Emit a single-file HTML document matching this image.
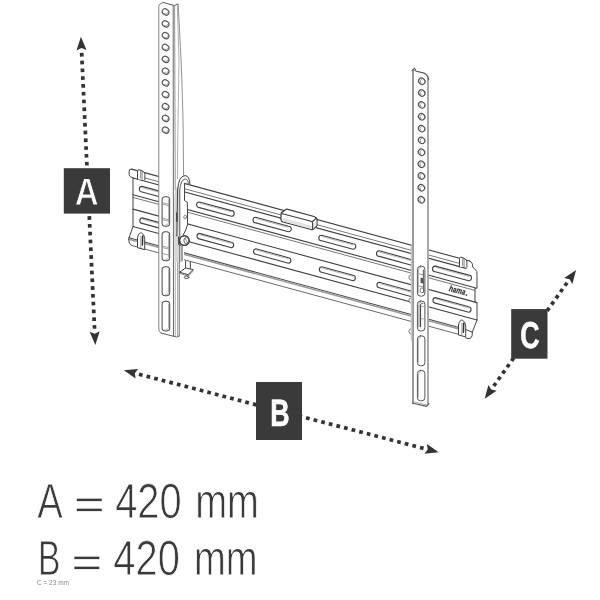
<!DOCTYPE html>
<html lang="en">
<head>
<meta charset="utf-8">
<title>Wall bracket dimensions</title>
<style>
html,body{margin:0;padding:0;background:#fff;}
body{width:600px;height:600px;overflow:hidden;font-family:"Liberation Sans",sans-serif;}
svg{display:block;}
text{text-rendering:geometricPrecision;}
svg{will-change:transform;}
</style>
</head>
<body>
<svg width="600" height="600" viewBox="0 0 600 600">
<rect width="600" height="600" fill="#fff"/>
<g id="plate" stroke-linecap="round" stroke-linejoin="round" fill="none">
<path d="M131.0,168.7 L472.0,261.6 L477.0,267.5 L477.0,320.0 L472.0,333.6 L470.0,337.4 L182.0,259.1 L131.0,245.3 L128.7,239.3 L133.0,226.5 L133.0,177.5 L129.3,173.5 Z" fill="#fff" stroke="none"/>
<path d="M131.6,169.1 L469.5,261.0" stroke="#424242" stroke-width="1.1" fill="none"/>
<path d="M145.0,178.0 L459.5,263.4" stroke="#6a6a6a" stroke-width="0.9" fill="none"/>
<path d="M133.2,178.0 L466.0,268.4" stroke="#424242" stroke-width="1.2" fill="none"/>
<path d="M133.0,194.7 L475.0,287.7" stroke="#424242" stroke-width="1.1" fill="none"/>
<path d="M133.0,197.4 L475.0,290.4" stroke="#6a6a6a" stroke-width="0.9" fill="none"/>
<path d="M133.0,209.1 L477.0,302.6" stroke="#424242" stroke-width="1.1" fill="none"/>
<path d="M133.0,226.5 L477.0,320.0" stroke="#424242" stroke-width="1.1" fill="none"/>
<path d="M129.0,237.8 L459.0,327.5" stroke="#4a4a4a" stroke-width="1.1" fill="none"/>
<path d="M129.0,239.3 L459.0,329.0" stroke="#9a9a9a" stroke-width="1.6" fill="none"/>
<path d="M131.5,245.4 L458.5,334.3" stroke="#6a6a6a" stroke-width="1.0" fill="none"/>
<path d="M133.0,178.0 L133.0,226.5 L128.7,238.8 Q128.4,243.8 131.5,245.4" stroke="#424242"/>
<path d="M131.6,169.1 Q129.1,168.6 129.1,171.4 L129.2,174.7 Q129.3,176.1 130.4,176.6 L133.3,178.1" stroke="#424242"/>
<path d="M469.3,260.7 Q472.4,262.1 472.6,264.8 L472.7,267.0 L476.8,271.3 L477.0,275.5 L477.0,288.2 L475.0,288.2 L475.0,301.9 L477.0,302.8 L477.0,320.0 L472.3,332.2 Q472.6,339.3 468.0,338.6 L465.5,337.7" stroke="#424242"/>
<path d="M466.0,329.6 L472.3,332.2" stroke="#424242"/>
<path d="M142.1,186.4 L174.2,195.1 A2.8,2.8 0 0 1 174.2,200.7 L142.1,192.0 A2.8,2.8 0 0 1 142.1,186.4 Z" stroke="#424242" stroke-width="1.1" fill="#fff"/>
<path d="M142.1,217.9 L174.2,226.6 A2.8,2.8 0 0 1 174.2,232.1 L142.1,223.4 A2.8,2.8 0 0 1 142.1,217.9 Z" stroke="#424242" stroke-width="1.1" fill="#fff"/>
<path d="M142.8,187.8 L174.0,196.2" stroke="#999" stroke-width="0.7" fill="none"/>
<path d="M142.8,219.3 L174.0,227.7" stroke="#999" stroke-width="0.7" fill="none"/>
<path d="M199.4,202.0 L231.4,210.6 A2.8,2.8 0 0 1 231.4,216.2 L199.4,207.6 A2.8,2.8 0 0 1 199.4,202.0 Z" stroke="#424242" stroke-width="1.1" fill="#fff"/>
<path d="M199.3,233.4 L231.4,242.2 A2.8,2.8 0 0 1 231.4,247.7 L199.3,238.9 A2.8,2.8 0 0 1 199.3,233.4 Z" stroke="#424242" stroke-width="1.1" fill="#fff"/>
<path d="M200.1,203.3 L231.2,211.8" stroke="#999" stroke-width="0.7" fill="none"/>
<path d="M200.1,234.8 L231.2,243.3" stroke="#999" stroke-width="0.7" fill="none"/>
<path d="M255.8,217.3 L288.5,226.2 A2.8,2.8 0 0 1 288.5,231.8 L255.8,222.9 A2.8,2.8 0 0 1 255.8,217.3 Z" stroke="#424242" stroke-width="1.1" fill="#fff"/>
<path d="M255.8,248.8 L288.6,257.7 A2.8,2.8 0 0 1 288.6,263.2 L255.8,254.3 A2.8,2.8 0 0 1 255.8,248.8 Z" stroke="#424242" stroke-width="1.1" fill="#fff"/>
<path d="M256.5,218.7 L288.3,227.3" stroke="#999" stroke-width="0.7" fill="none"/>
<path d="M256.5,250.2 L288.3,258.8" stroke="#999" stroke-width="0.7" fill="none"/>
<path d="M321.6,235.2 L353.0,243.7 A2.8,2.8 0 0 1 353.0,249.3 L321.6,240.8 A2.8,2.8 0 0 1 321.6,235.2 Z" stroke="#424242" stroke-width="1.1" fill="#fff"/>
<path d="M321.6,266.7 L353.1,275.2 A2.8,2.8 0 0 1 353.1,280.7 L321.6,272.2 A2.8,2.8 0 0 1 321.6,266.7 Z" stroke="#424242" stroke-width="1.1" fill="#fff"/>
<path d="M322.3,236.6 L352.8,244.8" stroke="#999" stroke-width="0.7" fill="none"/>
<path d="M322.3,268.1 L352.8,276.3" stroke="#999" stroke-width="0.7" fill="none"/>
<path d="M379.3,250.8 L411.7,259.7 A2.8,2.8 0 0 1 411.7,265.3 L379.3,256.4 A2.8,2.8 0 0 1 379.3,250.8 Z" stroke="#424242" stroke-width="1.1" fill="#fff"/>
<path d="M379.2,282.3 L411.8,291.2 A2.8,2.8 0 0 1 411.8,296.7 L379.2,287.8 A2.8,2.8 0 0 1 379.2,282.3 Z" stroke="#424242" stroke-width="1.1" fill="#fff"/>
<path d="M380.0,252.2 L411.5,260.8" stroke="#999" stroke-width="0.7" fill="none"/>
<path d="M380.0,283.7 L411.5,292.3" stroke="#999" stroke-width="0.7" fill="none"/>
<path d="M435.3,266.1 L468.7,275.1 A2.8,2.8 0 0 1 468.7,280.7 L435.3,271.7 A2.8,2.8 0 0 1 435.3,266.1 Z" stroke="#424242" stroke-width="1.1" fill="#fff"/>
<path d="M435.2,297.6 L468.8,306.7 A2.8,2.8 0 0 1 468.8,312.2 L435.2,303.1 A2.8,2.8 0 0 1 435.2,297.6 Z" stroke="#424242" stroke-width="1.1" fill="#fff"/>
<path d="M436.0,267.5 L468.5,276.3" stroke="#999" stroke-width="0.7" fill="none"/>
<path d="M436.0,299.0 L468.5,307.8" stroke="#999" stroke-width="0.7" fill="none"/>
<path d="M137.5,179.3 L137.5,170.9 Q137.7,169.0 140.0,169.9 L143.0,171.4 Q144.9,172.3 144.9,174.3 L144.9,179.7" fill="#fff" stroke="#424242"/>
<path d="M140.7,170.4 L140.7,178.1 M142.1,171.2 L142.1,179.5" stroke="#6a6a6a" stroke-width="0.8"/>
<path d="M459.5,266.8 L459.5,258.4 Q459.7,256.5 462.0,257.4 L465.0,258.9 Q466.9,259.9 466.9,261.9 L466.9,267.3" fill="#fff" stroke="#424242"/>
<path d="M462.7,257.9 L462.7,265.6 M464.1,258.7 L464.1,267.0" stroke="#6a6a6a" stroke-width="0.8"/>
<path d="M137.5,247.3 L137.5,237.7 Q138.9,231.7 141.7,233.1 Q144.5,234.4 144.7,238.7 L144.7,249.3 Z" fill="#fff" stroke="#424242"/>
<path d="M142.7,235.9 L142.4,245.1" stroke="#333" stroke-width="1.5"/>
<path d="M140.9,236.2 L140.9,247.7" stroke="#6a6a6a" stroke-width="0.7"/>
<path d="M458.5,334.6 L458.5,325.0 Q459.9,319.0 462.7,320.3 Q465.5,321.7 465.7,325.9 L465.7,336.5 Z" fill="#fff" stroke="#424242"/>
<path d="M463.7,323.2 L463.4,332.3" stroke="#333" stroke-width="1.5"/>
<path d="M461.9,323.4 L461.9,334.9" stroke="#6a6a6a" stroke-width="0.7"/>
</g>
<text x="448.6" y="290.9" font-family="Liberation Sans, sans-serif" font-weight="bold" font-style="italic" font-size="8.6" fill="#383838" stroke="#383838" stroke-width="0.25" transform="rotate(15.2 448.6 290.9)" textLength="16.6" lengthAdjust="spacingAndGlyphs">hama</text>
<circle cx="466.4" cy="295.1" r="0.9" fill="#444"/>
<g id="level" stroke-linejoin="round" stroke-linecap="round">
<path d="M281.0,214.7 Q281.0,212.7 282.5,211.9 L285.5,209.7 Q286.5,208.9 288.0,209.4 L314.0,216.5 Q316.0,217.4 317.0,218.9 L317.0,225.5 L313.5,229.1 Q312.5,229.9 311.0,229.4 L283.0,221.9 Q281.0,221.3 281.0,219.7 Z" fill="#fff" stroke="#3c3c3c" stroke-width="1.2"/>
<path d="M282.0,217.6 L312.0,225.8 L312.0,229.2 L283.0,221.4 Z" fill="#e3e3e3" stroke="none"/>
<path d="M313.3,223.5 L316.4,220.4 L316.4,225.4 L313.3,228.5 Z" fill="#e6e6e6" stroke="none"/>
<path d="M281.6,213.5 L311.0,221.3 Q312.6,221.9 312.6,223.3 L312.6,229.3 M312.2,222.0 L316.3,218.1" fill="none" stroke="#3c3c3c" stroke-width="1.1"/>
</g>
<g id="lbr" stroke-linejoin="round" stroke-linecap="round">
<path d="M158.8,6 Q158.8,4.6 160,4 L163.3,2.5 L174.5,5.6 L177.3,4 L178.2,4.6 L181.1,60 L183.1,125 L183.8,176 L184,262 L179.2,262 L179.2,336 L176.5,337 L161,333 Q158.8,332 158.8,329 Z" fill="#fff" stroke="none"/>
<path d="M163.3,2.5 L160,4 Q158.8,4.6 158.8,6 L158.8,329 Q158.8,332 161,333" fill="none" stroke="#848484"/>
<path d="M161,333 L176.5,337 L179.2,336" fill="none" stroke="#5a5a5a"/>
<path d="M163.3,2.5 L174.5,5.6 L177.3,4 L178.2,4.6" fill="none" stroke="#555"/>
<path d="M173.2,5.6 L173.5,336" fill="none" stroke="#6a6a6a"/>
<path d="M174.6,5.6 L175.2,175 L175.2,190" fill="none" stroke="#8a8a8a" stroke-width="0.9"/>
<path d="M177.3,4 L179,60 L177.6,150 L177.5,186" fill="none" stroke="#9a9a9a" stroke-width="0.8"/>
<path d="M177.5,262 L177.5,336.5" fill="none" stroke="#9a9a9a" stroke-width="0.8"/>
<path d="M178.2,4.6 Q179.8,36 181.1,60 Q182.6,100 183.1,125 L183.6,176" fill="none" stroke="#858585" stroke-width="0.9"/>
<path d="M179.2,262 L179.2,336" fill="none" stroke="#6a6a6a"/>
<path d="M175.2,262 L175.3,336.4" fill="none" stroke="#9a9a9a" stroke-width="0.8"/>
<ellipse cx="165.6" cy="12.0" rx="3.5" ry="2.85" fill="#fff" stroke="#555" stroke-width="1.2" transform="rotate(35 165.6 12.0)"/>
<path d="M164.2,13.7 Q167.2,15.0 168.2,12.2" fill="none" stroke="#808080" stroke-width="0.8"/>
<ellipse cx="165.6" cy="23.8" rx="3.5" ry="2.85" fill="#fff" stroke="#555" stroke-width="1.2" transform="rotate(35 165.6 23.8)"/>
<path d="M164.2,25.5 Q167.2,26.8 168.2,24.0" fill="none" stroke="#808080" stroke-width="0.8"/>
<ellipse cx="165.6" cy="35.6" rx="3.5" ry="2.85" fill="#fff" stroke="#555" stroke-width="1.2" transform="rotate(35 165.6 35.6)"/>
<path d="M164.2,37.3 Q167.2,38.6 168.2,35.8" fill="none" stroke="#808080" stroke-width="0.8"/>
<ellipse cx="165.6" cy="47.5" rx="3.5" ry="2.85" fill="#fff" stroke="#555" stroke-width="1.2" transform="rotate(35 165.6 47.5)"/>
<path d="M164.2,49.2 Q167.2,50.5 168.2,47.7" fill="none" stroke="#808080" stroke-width="0.8"/>
<ellipse cx="165.6" cy="59.3" rx="3.5" ry="2.85" fill="#fff" stroke="#555" stroke-width="1.2" transform="rotate(35 165.6 59.3)"/>
<path d="M164.2,61.0 Q167.2,62.3 168.2,59.5" fill="none" stroke="#808080" stroke-width="0.8"/>
<ellipse cx="165.6" cy="71.1" rx="3.5" ry="2.85" fill="#fff" stroke="#555" stroke-width="1.2" transform="rotate(35 165.6 71.1)"/>
<path d="M164.2,72.8 Q167.2,74.1 168.2,71.3" fill="none" stroke="#808080" stroke-width="0.8"/>
<ellipse cx="165.6" cy="82.9" rx="3.5" ry="2.85" fill="#fff" stroke="#555" stroke-width="1.2" transform="rotate(35 165.6 82.9)"/>
<path d="M164.2,84.6 Q167.2,85.9 168.2,83.1" fill="none" stroke="#808080" stroke-width="0.8"/>
<ellipse cx="165.6" cy="94.7" rx="3.5" ry="2.85" fill="#fff" stroke="#555" stroke-width="1.2" transform="rotate(35 165.6 94.7)"/>
<path d="M164.2,96.4 Q167.2,97.7 168.2,94.9" fill="none" stroke="#808080" stroke-width="0.8"/>
<ellipse cx="165.6" cy="106.6" rx="3.5" ry="2.85" fill="#fff" stroke="#555" stroke-width="1.2" transform="rotate(35 165.6 106.6)"/>
<path d="M164.2,108.3 Q167.2,109.6 168.2,106.8" fill="none" stroke="#808080" stroke-width="0.8"/>
<ellipse cx="165.6" cy="118.4" rx="3.5" ry="2.85" fill="#fff" stroke="#555" stroke-width="1.2" transform="rotate(35 165.6 118.4)"/>
<path d="M164.2,120.1 Q167.2,121.4 168.2,118.6" fill="none" stroke="#808080" stroke-width="0.8"/>
<ellipse cx="165.6" cy="130.2" rx="3.5" ry="2.85" fill="#fff" stroke="#555" stroke-width="1.2" transform="rotate(35 165.6 130.2)"/>
<path d="M164.2,131.9 Q167.2,133.2 168.2,130.4" fill="none" stroke="#808080" stroke-width="0.8"/>
<rect x="162.1" y="196.7" width="7.6" height="29.6" rx="3.2" ry="3.2" stroke="#505050" stroke-width="1.05" fill="#fff"/>
<path d="M168.5,199.7 L168.5,222.8 Q168.1,225.1 165.6,225.1" fill="none" stroke="#999" stroke-width="0.7"/>
<rect x="162.1" y="231.7" width="7.6" height="29.1" rx="3.2" ry="3.2" stroke="#505050" stroke-width="1.05" fill="#fff"/>
<path d="M168.5,234.7 L168.5,257.3 Q168.1,259.6 165.6,259.6" fill="none" stroke="#999" stroke-width="0.7"/>
<rect x="162.1" y="266.7" width="7.6" height="29.1" rx="3.2" ry="3.2" stroke="#505050" stroke-width="1.05" fill="#fff"/>
<path d="M168.5,269.7 L168.5,292.3 Q168.1,294.6 165.6,294.6" fill="none" stroke="#999" stroke-width="0.7"/>
<rect x="162.1" y="301.3" width="7.6" height="29.7" rx="3.2" ry="3.2" stroke="#505050" stroke-width="1.05" fill="#fff"/>
<path d="M168.5,304.3 L168.5,327.5 Q168.1,329.8 165.6,329.8" fill="none" stroke="#999" stroke-width="0.7"/>
<path d="M162.8,202.8 L169,204.4" fill="none" stroke="#8a8a8a" stroke-width="0.8"/>
<path d="M162.8,204.2 L169,205.8" fill="none" stroke="#8a8a8a" stroke-width="0.8"/>
<path d="M162.8,218.2 L169,219.8" fill="none" stroke="#8a8a8a" stroke-width="0.8"/>
<path d="M162.8,219.6 L169,221.2" fill="none" stroke="#8a8a8a" stroke-width="0.8"/>
<path d="M162.8,246.1 L169,247.7" fill="none" stroke="#8a8a8a" stroke-width="0.8"/>
<path d="M162.8,247.6 L169,249.2" fill="none" stroke="#8a8a8a" stroke-width="0.8"/>
<path d="M162.8,253.6 L169,255.2" fill="none" stroke="#8a8a8a" stroke-width="0.8"/>
<path d="M176.6,178 L184.6,184 L184.5,200.5 L187.3,202.3 L187.6,224 Q186.5,230 183.2,235 L182,246 L182,262 L176.6,262 Z" fill="#fff" stroke="none"/>
<path d="M174.2,262 L174.2,192 L178,190 Q178.6,176 185,175.6 Q189.6,175.6 190,184.6 L188.5,184.2 Q188,179 185.4,179 Q181,179.4 180,190 L179.8,236 L182,246 L182,262 Z" fill="#fff" stroke="none"/>
<path d="M174.2,262 L174.2,196 Q175,188 178,186 L180,190 L179.8,236 L179.8,262 Z" fill="#d6d6d6" stroke="none"/>
<path d="M176.8,236 L177.6,190 Q178.6,176 185,175.6 Q189.6,175.6 190,184.6" fill="none" stroke="#424242"/>
<path d="M179.8,262 L179.8,190 Q180.6,179.4 185.4,179 Q188,179 188.5,184.2" fill="none" stroke="#5a5a5a" stroke-width="1"/>
<path d="M184.6,184.3 L184.5,200.5 L187.3,202.3 L187.6,224 Q186.5,230 183.2,235" fill="none" stroke="#424242"/>
<path d="M182,246 L182,261" fill="none" stroke="#424242"/>
<ellipse cx="185.2" cy="217" rx="1.3" ry="1.9" fill="#fff" stroke="#6a6a6a" stroke-width="0.8" transform="rotate(20 185.2 217)"/>
<path d="M176.8,213 L176.8,221.4" stroke="#444" stroke-width="1.5" fill="none"/>
<circle cx="184.4" cy="240.6" r="4.8" fill="#fff" stroke="#333" stroke-width="1.4"/>
<ellipse cx="186.3" cy="240.6" rx="2.4" ry="3.1" fill="#fff" stroke="#555" stroke-width="0.9"/>
<path d="M185.3,238.6 L187.3,242.6" stroke="#666" stroke-width="0.7" fill="none"/>
<path d="M178.6,237 L178.6,244.5 L180.4,245.5" stroke="#444" stroke-width="1" fill="none"/>
<path d="M185.6,261 L185.6,269 M190.3,262 L190.3,269.6" stroke="#424242" fill="none"/>
<path d="M179.8,272 L185.7,268 L193,269.6 L188.4,274.4 Z" fill="#fff" stroke="#424242"/>
<path d="M179.8,272 L179.8,273.5 L188.4,276 L188.4,274.4 M188.4,276 L193,271.2 L193,269.6" fill="none" stroke="#6a6a6a" stroke-width="0.8"/>
<ellipse cx="186.6" cy="277.4" rx="2.4" ry="1.3" fill="#ddd" stroke="#555" stroke-width="0.9"/>
</g>
<g id="rbr" stroke-linejoin="round" stroke-linecap="round">
<path d="M412,274.5 Q408.6,274.9 408.8,277.5 Q409,280.1 412,280.5" fill="#fff" stroke="#6a6a6a" stroke-width="0.9"/>
<path d="M412,297.5 Q408.6,297.9 408.8,300.5 Q409,303.1 412,303.5" fill="#fff" stroke="#6a6a6a" stroke-width="0.9"/>
<path d="M412,328.5 Q408.6,328.9 408.8,331.5 Q409,334.1 412,334.5" fill="#fff" stroke="#6a6a6a" stroke-width="0.9"/>
<path d="M412.2,70.4 L414.5,68.2 L416.2,71.2 L423.3,72.9 Q427.8,74.2 428.7,79.5 L428.9,403.6 L426.6,406.4 L412.2,403 Z" fill="#fff" stroke="none"/>
<path d="M413,70.6 L413,403" fill="none" stroke="#888" stroke-width="1.7"/>
<path d="M411.6,246 L411.6,340" fill="none" stroke="#c4c4c4" stroke-width="1.6"/>
<path d="M428,78.5 L428,404.4" fill="none" stroke="#959595" stroke-width="1.6"/>
<path d="M412.2,70.6 L414.5,68.2 L416.2,71.2 L423.3,72.9 Q427.8,74.2 428.6,79.5" fill="none" stroke="#555" stroke-width="1.1"/>
<circle cx="414.6" cy="69.7" r="0.9" fill="#fff" stroke="#555" stroke-width="0.7"/>
<path d="M412.2,403 L426.6,406.4 L428.9,403.6" fill="none" stroke="#5a5a5a" stroke-width="1.1"/>
<path d="M413.8,401.8 L426.8,404.9" fill="none" stroke="#999" stroke-width="0.8"/>
<ellipse cx="421.8" cy="81.2" rx="3.4" ry="2.95" fill="#fff" stroke="#555" stroke-width="1.2" transform="rotate(40 421.8 81.2)"/>
<path d="M421.6,79.0 Q419.2,80.6 420.8,83.0" fill="none" stroke="#808080" stroke-width="0.8"/>
<ellipse cx="421.8" cy="93.0" rx="3.4" ry="2.95" fill="#fff" stroke="#555" stroke-width="1.2" transform="rotate(40 421.8 93.0)"/>
<path d="M421.6,90.8 Q419.1,92.5 420.8,94.8" fill="none" stroke="#808080" stroke-width="0.8"/>
<ellipse cx="421.7" cy="104.9" rx="3.4" ry="2.95" fill="#fff" stroke="#555" stroke-width="1.2" transform="rotate(40 421.7 104.9)"/>
<path d="M421.5,102.7 Q419.1,104.3 420.7,106.7" fill="none" stroke="#808080" stroke-width="0.8"/>
<ellipse cx="421.7" cy="116.8" rx="3.4" ry="2.95" fill="#fff" stroke="#555" stroke-width="1.2" transform="rotate(40 421.7 116.8)"/>
<path d="M421.5,114.5 Q419.1,116.2 420.7,118.5" fill="none" stroke="#808080" stroke-width="0.8"/>
<ellipse cx="421.6" cy="128.6" rx="3.4" ry="2.95" fill="#fff" stroke="#555" stroke-width="1.2" transform="rotate(40 421.6 128.6)"/>
<path d="M421.4,126.4 Q419.0,128.0 420.6,130.4" fill="none" stroke="#808080" stroke-width="0.8"/>
<ellipse cx="421.6" cy="140.4" rx="3.4" ry="2.95" fill="#fff" stroke="#555" stroke-width="1.2" transform="rotate(40 421.6 140.4)"/>
<path d="M421.4,138.2 Q418.9,139.8 420.6,142.2" fill="none" stroke="#808080" stroke-width="0.8"/>
<ellipse cx="421.5" cy="152.3" rx="3.4" ry="2.95" fill="#fff" stroke="#555" stroke-width="1.2" transform="rotate(40 421.5 152.3)"/>
<path d="M421.3,150.1 Q418.9,151.7 420.5,154.1" fill="none" stroke="#808080" stroke-width="0.8"/>
<ellipse cx="421.4" cy="164.2" rx="3.4" ry="2.95" fill="#fff" stroke="#555" stroke-width="1.2" transform="rotate(40 421.4 164.2)"/>
<path d="M421.2,162.0 Q418.8,163.6 420.4,166.0" fill="none" stroke="#808080" stroke-width="0.8"/>
<ellipse cx="421.4" cy="176.0" rx="3.4" ry="2.95" fill="#fff" stroke="#555" stroke-width="1.2" transform="rotate(40 421.4 176.0)"/>
<path d="M421.2,173.8 Q418.8,175.4 420.4,177.8" fill="none" stroke="#808080" stroke-width="0.8"/>
<ellipse cx="421.4" cy="187.8" rx="3.4" ry="2.95" fill="#fff" stroke="#555" stroke-width="1.2" transform="rotate(40 421.4 187.8)"/>
<path d="M421.2,185.7 Q418.8,187.2 420.4,189.7" fill="none" stroke="#808080" stroke-width="0.8"/>
<ellipse cx="421.3" cy="199.7" rx="3.4" ry="2.95" fill="#fff" stroke="#555" stroke-width="1.2" transform="rotate(40 421.3 199.7)"/>
<path d="M421.1,197.5 Q418.7,199.1 420.3,201.5" fill="none" stroke="#808080" stroke-width="0.8"/>
<rect x="417.4" y="266.2" width="7.5" height="30.0" rx="3.2" ry="3.2" stroke="#555" stroke-width="1.0" fill="#fff"/>
<path d="M418.6,292.7 L418.6,269.7 Q418.8,267.4 421,267.4" fill="none" stroke="#999" stroke-width="0.7"/>
<rect x="417.4" y="301.0" width="7.5" height="30.0" rx="3.2" ry="3.2" stroke="#555" stroke-width="1.0" fill="#fff"/>
<path d="M418.6,327.5 L418.6,304.5 Q418.8,302.2 421,302.2" fill="none" stroke="#999" stroke-width="0.7"/>
<rect x="417.4" y="335.8" width="7.5" height="30.0" rx="3.2" ry="3.2" stroke="#555" stroke-width="1.0" fill="#fff"/>
<path d="M418.6,362.3 L418.6,339.3 Q418.8,337.0 421,337.0" fill="none" stroke="#999" stroke-width="0.7"/>
<rect x="417.4" y="370.4" width="7.5" height="30.4" rx="3.2" ry="3.2" stroke="#555" stroke-width="1.0" fill="#fff"/>
<path d="M418.6,397.3 L418.6,373.9 Q418.8,371.6 421,371.6" fill="none" stroke="#999" stroke-width="0.7"/>
<path d="M420.6,277.6 L423.4,278.2 L423.4,283.6 L420.6,283 Z" fill="#555" stroke="none"/>
<path d="M419.4,274 L423.8,275 M419.4,286 L423.8,287.2" stroke="#777" stroke-width="0.8" fill="none"/>
<ellipse cx="422" cy="290.3" rx="1.9" ry="2.4" fill="#fff" stroke="#666" stroke-width="0.8"/>
<path d="M420.4,305 L420.4,326.5" stroke="#484848" stroke-width="1.4" fill="none"/>
<path d="M420.4,305 Q420.6,302.6 423,303.2" stroke="#555" stroke-width="0.9" fill="none"/>
<path d="M423.4,270 L423.6,292" stroke="#666" stroke-width="1.1" fill="none"/>
<path d="M420,306 L423.6,306.8 M420,318 L423.6,319" stroke="#888" stroke-width="0.7" fill="none"/>
</g>
<g id="dims">
<rect x="79.89" y="52.93" width="3.7" height="3.7" fill="#333" transform="rotate(87.3 81.74 54.78)"/>
<rect x="80.26" y="60.71" width="3.7" height="3.7" fill="#333" transform="rotate(87.3 82.11 62.56)"/>
<rect x="80.62" y="68.48" width="3.7" height="3.7" fill="#333" transform="rotate(87.3 82.47 70.33)"/>
<rect x="80.98" y="76.26" width="3.7" height="3.7" fill="#333" transform="rotate(87.3 82.83 78.11)"/>
<rect x="81.35" y="84.03" width="3.7" height="3.7" fill="#333" transform="rotate(87.3 83.20 85.88)"/>
<rect x="81.71" y="91.81" width="3.7" height="3.7" fill="#333" transform="rotate(87.3 83.56 93.66)"/>
<rect x="82.07" y="99.58" width="3.7" height="3.7" fill="#333" transform="rotate(87.3 83.92 101.43)"/>
<rect x="82.44" y="107.36" width="3.7" height="3.7" fill="#333" transform="rotate(87.3 84.29 109.21)"/>
<rect x="82.80" y="115.13" width="3.7" height="3.7" fill="#333" transform="rotate(87.3 84.65 116.98)"/>
<rect x="83.16" y="122.91" width="3.7" height="3.7" fill="#333" transform="rotate(87.3 85.01 124.76)"/>
<rect x="83.53" y="130.68" width="3.7" height="3.7" fill="#333" transform="rotate(87.3 85.38 132.53)"/>
<rect x="83.89" y="138.46" width="3.7" height="3.7" fill="#333" transform="rotate(87.3 85.74 140.31)"/>
<rect x="84.25" y="146.24" width="3.7" height="3.7" fill="#333" transform="rotate(87.3 86.10 148.09)"/>
<rect x="84.62" y="154.01" width="3.7" height="3.7" fill="#333" transform="rotate(87.3 86.47 155.86)"/>
<rect x="84.98" y="161.79" width="3.7" height="3.7" fill="#333" transform="rotate(87.3 86.83 163.64)"/>
<rect x="85.34" y="169.56" width="3.7" height="3.7" fill="#333" transform="rotate(87.3 87.19 171.41)"/>
<rect x="85.71" y="177.34" width="3.7" height="3.7" fill="#333" transform="rotate(87.3 87.56 179.19)"/>
<rect x="86.07" y="185.11" width="3.7" height="3.7" fill="#333" transform="rotate(87.3 87.92 186.96)"/>
<rect x="86.43" y="192.89" width="3.7" height="3.7" fill="#333" transform="rotate(87.3 88.28 194.74)"/>
<rect x="86.79" y="200.66" width="3.7" height="3.7" fill="#333" transform="rotate(87.3 88.64 202.51)"/>
<rect x="87.16" y="208.44" width="3.7" height="3.7" fill="#333" transform="rotate(87.3 89.01 210.29)"/>
<rect x="87.52" y="216.21" width="3.7" height="3.7" fill="#333" transform="rotate(87.3 89.37 218.06)"/>
<rect x="87.88" y="223.99" width="3.7" height="3.7" fill="#333" transform="rotate(87.3 89.73 225.84)"/>
<rect x="88.25" y="231.76" width="3.7" height="3.7" fill="#333" transform="rotate(87.3 90.10 233.61)"/>
<rect x="88.61" y="239.54" width="3.7" height="3.7" fill="#333" transform="rotate(87.3 90.46 241.39)"/>
<rect x="88.97" y="247.32" width="3.7" height="3.7" fill="#333" transform="rotate(87.3 90.82 249.17)"/>
<rect x="89.34" y="255.09" width="3.7" height="3.7" fill="#333" transform="rotate(87.3 91.19 256.94)"/>
<rect x="89.70" y="262.87" width="3.7" height="3.7" fill="#333" transform="rotate(87.3 91.55 264.72)"/>
<rect x="90.06" y="270.64" width="3.7" height="3.7" fill="#333" transform="rotate(87.3 91.91 272.49)"/>
<rect x="90.43" y="278.42" width="3.7" height="3.7" fill="#333" transform="rotate(87.3 92.28 280.27)"/>
<rect x="90.79" y="286.19" width="3.7" height="3.7" fill="#333" transform="rotate(87.3 92.64 288.04)"/>
<rect x="91.15" y="293.97" width="3.7" height="3.7" fill="#333" transform="rotate(87.3 93.00 295.82)"/>
<rect x="91.52" y="301.74" width="3.7" height="3.7" fill="#333" transform="rotate(87.3 93.37 303.59)"/>
<rect x="91.88" y="309.52" width="3.7" height="3.7" fill="#333" transform="rotate(87.3 93.73 311.37)"/>
<rect x="92.24" y="317.29" width="3.7" height="3.7" fill="#333" transform="rotate(87.3 94.09 319.14)"/>
<rect x="92.61" y="325.07" width="3.7" height="3.7" fill="#333" transform="rotate(87.3 94.46 326.92)"/>
<path d="M80.9,36.7 L86.5,50.0 L81.4,48.0 L76.5,50.4 Z" fill="#333"/>
<path d="M95.3,345.0 L89.7,331.7 L94.8,333.7 L99.7,331.3 Z" fill="#333"/>
<rect x="63.8" y="168.2" width="46.2" height="45.4" fill="#3a3a3a"/>
<text x="86.8" y="205.2" font-size="38.6" font-family="Liberation Sans, sans-serif" font-weight="bold" fill="#fff" text-anchor="middle" lengthAdjust="spacingAndGlyphs" textLength="24" stroke="#3a3a3a" stroke-width="0.9">A</text>
<rect x="138.89" y="372.86" width="3.7" height="3.7" fill="#333" transform="rotate(14.6 140.74 374.71)"/>
<rect x="146.48" y="374.84" width="3.7" height="3.7" fill="#333" transform="rotate(14.6 148.33 376.69)"/>
<rect x="154.08" y="376.82" width="3.7" height="3.7" fill="#333" transform="rotate(14.6 155.93 378.67)"/>
<rect x="161.67" y="378.79" width="3.7" height="3.7" fill="#333" transform="rotate(14.6 163.52 380.64)"/>
<rect x="169.27" y="380.77" width="3.7" height="3.7" fill="#333" transform="rotate(14.6 171.12 382.62)"/>
<rect x="176.86" y="382.75" width="3.7" height="3.7" fill="#333" transform="rotate(14.6 178.71 384.60)"/>
<rect x="184.46" y="384.73" width="3.7" height="3.7" fill="#333" transform="rotate(14.6 186.31 386.58)"/>
<rect x="192.05" y="386.70" width="3.7" height="3.7" fill="#333" transform="rotate(14.6 193.90 388.55)"/>
<rect x="199.65" y="388.68" width="3.7" height="3.7" fill="#333" transform="rotate(14.6 201.50 390.53)"/>
<rect x="207.24" y="390.66" width="3.7" height="3.7" fill="#333" transform="rotate(14.6 209.09 392.51)"/>
<rect x="214.84" y="392.64" width="3.7" height="3.7" fill="#333" transform="rotate(14.6 216.69 394.49)"/>
<rect x="222.43" y="394.62" width="3.7" height="3.7" fill="#333" transform="rotate(14.6 224.28 396.47)"/>
<rect x="230.03" y="396.59" width="3.7" height="3.7" fill="#333" transform="rotate(14.6 231.88 398.44)"/>
<rect x="237.63" y="398.57" width="3.7" height="3.7" fill="#333" transform="rotate(14.6 239.48 400.42)"/>
<rect x="245.22" y="400.55" width="3.7" height="3.7" fill="#333" transform="rotate(14.6 247.07 402.40)"/>
<rect x="252.82" y="402.53" width="3.7" height="3.7" fill="#333" transform="rotate(14.6 254.67 404.38)"/>
<rect x="260.41" y="404.51" width="3.7" height="3.7" fill="#333" transform="rotate(14.6 262.26 406.36)"/>
<rect x="268.01" y="406.48" width="3.7" height="3.7" fill="#333" transform="rotate(14.6 269.86 408.33)"/>
<rect x="275.60" y="408.46" width="3.7" height="3.7" fill="#333" transform="rotate(14.6 277.45 410.31)"/>
<rect x="283.20" y="410.44" width="3.7" height="3.7" fill="#333" transform="rotate(14.6 285.05 412.29)"/>
<rect x="290.79" y="412.42" width="3.7" height="3.7" fill="#333" transform="rotate(14.6 292.64 414.27)"/>
<rect x="298.39" y="414.39" width="3.7" height="3.7" fill="#333" transform="rotate(14.6 300.24 416.24)"/>
<rect x="305.98" y="416.37" width="3.7" height="3.7" fill="#333" transform="rotate(14.6 307.83 418.22)"/>
<rect x="313.58" y="418.35" width="3.7" height="3.7" fill="#333" transform="rotate(14.6 315.43 420.20)"/>
<rect x="321.17" y="420.33" width="3.7" height="3.7" fill="#333" transform="rotate(14.6 323.02 422.18)"/>
<rect x="328.77" y="422.31" width="3.7" height="3.7" fill="#333" transform="rotate(14.6 330.62 424.16)"/>
<rect x="336.37" y="424.28" width="3.7" height="3.7" fill="#333" transform="rotate(14.6 338.22 426.13)"/>
<rect x="343.96" y="426.26" width="3.7" height="3.7" fill="#333" transform="rotate(14.6 345.81 428.11)"/>
<rect x="351.56" y="428.24" width="3.7" height="3.7" fill="#333" transform="rotate(14.6 353.41 430.09)"/>
<rect x="359.15" y="430.22" width="3.7" height="3.7" fill="#333" transform="rotate(14.6 361.00 432.07)"/>
<rect x="366.75" y="432.20" width="3.7" height="3.7" fill="#333" transform="rotate(14.6 368.60 434.05)"/>
<rect x="374.34" y="434.17" width="3.7" height="3.7" fill="#333" transform="rotate(14.6 376.19 436.02)"/>
<rect x="381.94" y="436.15" width="3.7" height="3.7" fill="#333" transform="rotate(14.6 383.79 438.00)"/>
<rect x="389.53" y="438.13" width="3.7" height="3.7" fill="#333" transform="rotate(14.6 391.38 439.98)"/>
<rect x="397.13" y="440.11" width="3.7" height="3.7" fill="#333" transform="rotate(14.6 398.98 441.96)"/>
<rect x="404.72" y="442.08" width="3.7" height="3.7" fill="#333" transform="rotate(14.6 406.57 443.93)"/>
<rect x="412.32" y="444.06" width="3.7" height="3.7" fill="#333" transform="rotate(14.6 414.17 445.91)"/>
<rect x="419.91" y="446.04" width="3.7" height="3.7" fill="#333" transform="rotate(14.6 421.76 447.89)"/>
<path d="M123.8,370.3 L138.1,368.9 L134.8,373.2 L135.6,378.5 Z" fill="#333"/>
<path d="M438.7,452.3 L424.4,453.7 L427.7,449.4 L426.9,444.1 Z" fill="#333"/>
<rect x="256" y="382" width="46" height="58" fill="#3a3a3a"/>
<text x="279.9" y="425.8" font-size="38" font-family="Liberation Sans, sans-serif" font-weight="bold" fill="#fff" text-anchor="middle" lengthAdjust="spacingAndGlyphs" textLength="19.3" stroke="#fff" stroke-width="0.7">B</text>
<rect x="564.12" y="282.42" width="3.7" height="3.7" fill="#333" transform="rotate(125.4 565.97 284.27)"/>
<rect x="559.68" y="288.69" width="3.7" height="3.7" fill="#333" transform="rotate(125.4 561.53 290.54)"/>
<rect x="555.23" y="294.95" width="3.7" height="3.7" fill="#333" transform="rotate(125.4 557.08 296.80)"/>
<rect x="550.78" y="301.22" width="3.7" height="3.7" fill="#333" transform="rotate(125.4 552.63 303.07)"/>
<rect x="546.34" y="307.49" width="3.7" height="3.7" fill="#333" transform="rotate(125.4 548.19 309.34)"/>
<rect x="541.89" y="313.75" width="3.7" height="3.7" fill="#333" transform="rotate(125.4 543.74 315.60)"/>
<rect x="537.44" y="320.02" width="3.7" height="3.7" fill="#333" transform="rotate(125.4 539.29 321.87)"/>
<rect x="533.00" y="326.28" width="3.7" height="3.7" fill="#333" transform="rotate(125.4 534.85 328.13)"/>
<rect x="528.55" y="332.55" width="3.7" height="3.7" fill="#333" transform="rotate(125.4 530.40 334.40)"/>
<rect x="524.10" y="338.82" width="3.7" height="3.7" fill="#333" transform="rotate(125.4 525.95 340.67)"/>
<rect x="519.66" y="345.08" width="3.7" height="3.7" fill="#333" transform="rotate(125.4 521.51 346.93)"/>
<rect x="515.21" y="351.35" width="3.7" height="3.7" fill="#333" transform="rotate(125.4 517.06 353.20)"/>
<rect x="510.76" y="357.61" width="3.7" height="3.7" fill="#333" transform="rotate(125.4 512.61 359.46)"/>
<rect x="506.32" y="363.88" width="3.7" height="3.7" fill="#333" transform="rotate(125.4 508.17 365.73)"/>
<rect x="501.87" y="370.15" width="3.7" height="3.7" fill="#333" transform="rotate(125.4 503.72 372.00)"/>
<rect x="497.42" y="376.41" width="3.7" height="3.7" fill="#333" transform="rotate(125.4 499.27 378.26)"/>
<rect x="492.98" y="382.68" width="3.7" height="3.7" fill="#333" transform="rotate(125.4 494.83 384.53)"/>
<path d="M576.1,270.0 L572.4,283.9 L569.5,279.2 L564.2,278.1 Z" fill="#333"/>
<path d="M484.7,398.8 L488.4,384.9 L491.3,389.6 L496.6,390.7 Z" fill="#333"/>
<rect x="511.2" y="309.1" width="36.3" height="49.6" fill="#3a3a3a"/>
<text x="530" y="348.4" font-size="37.4" font-family="Liberation Sans, sans-serif" font-weight="bold" fill="#fff" text-anchor="middle" lengthAdjust="spacingAndGlyphs" textLength="19.3" stroke="#fff" stroke-width="0.6">C</text>
</g>
<g id="legend">
<text x="37.2" y="517.6" font-size="49.3" font-family="Liberation Sans, sans-serif" fill="#3a3a3a" stroke="#fff" stroke-width="0.85" lengthAdjust="spacingAndGlyphs" textLength="25.6">A</text>
<text x="73.9" y="518.3" font-size="40" font-family="Liberation Sans, sans-serif" fill="#3a3a3a" stroke="#fff" stroke-width="0.35" lengthAdjust="spacingAndGlyphs" textLength="30.6">=</text>
<text x="115.2" y="517.6" font-size="49.3" font-family="Liberation Sans, sans-serif" fill="#3a3a3a" stroke="#fff" stroke-width="0.85" lengthAdjust="spacingAndGlyphs" textLength="66.5">420</text>
<text x="195.3" y="517.6" font-size="49.3" font-family="Liberation Sans, sans-serif" fill="#3a3a3a" stroke="#fff" stroke-width="0.85" lengthAdjust="spacingAndGlyphs" textLength="63.6">mm</text>
<text x="38" y="575.1" font-size="49.3" font-family="Liberation Sans, sans-serif" fill="#3a3a3a" stroke="#fff" stroke-width="0.85" lengthAdjust="spacingAndGlyphs" textLength="22.4">B</text>
<text x="71.5" y="575.8" font-size="40" font-family="Liberation Sans, sans-serif" fill="#3a3a3a" stroke="#fff" stroke-width="0.35" lengthAdjust="spacingAndGlyphs" textLength="30.6">=</text>
<text x="113.3" y="575.1" font-size="49.3" font-family="Liberation Sans, sans-serif" fill="#3a3a3a" stroke="#fff" stroke-width="0.85" lengthAdjust="spacingAndGlyphs" textLength="66.5">420</text>
<text x="193.9" y="575.1" font-size="49.3" font-family="Liberation Sans, sans-serif" fill="#3a3a3a" stroke="#fff" stroke-width="0.85" lengthAdjust="spacingAndGlyphs" textLength="63.6">mm</text>
<text x="37" y="585" font-size="7.3" font-family="Liberation Sans, sans-serif" fill="#8a8a8a" textLength="32" lengthAdjust="spacingAndGlyphs">C = 23 mm</text>
</g>
</svg>
</body>
</html>
